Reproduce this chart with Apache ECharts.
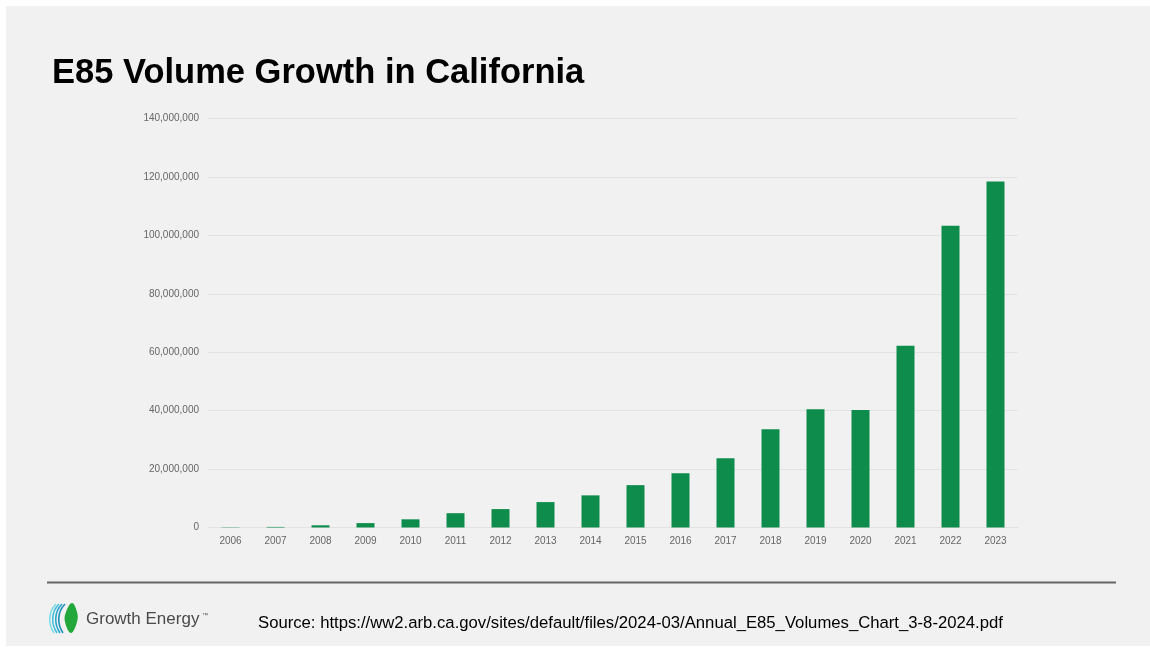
<!DOCTYPE html>
<html>
<head>
<meta charset="utf-8">
<script src="https://cdn.jsdelivr.net/npm/echarts@6/dist/echarts.min.js"></script>
<style>
html,body{margin:0;padding:0;background:#ffffff;}
#chart{width:1150px;height:647px;}
</style>
</head>
<body>
<div id="chart"></div>
<script>
const titleText = 'E85 Volume Growth in California';
const sourceText = 'Source: https://ww2.arb.ca.gov/sites/default/files/2024-03/Annual_E85_Volumes_Chart_3-8-2024.pdf';
const brandText = 'Growth Energy';
const years = ['2006','2007','2008','2009','2010','2011','2012','2013','2014','2015','2016','2017','2018','2019','2020','2021','2022','2023'];
const volumes = [100000, 200000, 750000, 1500000, 2800000, 4900000, 6300000, 8700000, 11000000, 14500000, 18600000, 23700000, 33600000, 40500000, 40200000, 62200000, 103300000, 118400000];
const yMax = 140000000;
const yInterval = 20000000;

const chart = echarts.init(document.getElementById('chart'), null, {renderer: 'canvas'});
const fmt = v => v.toLocaleString('en-US');

function curve(dx, color) {
  return {type: 'bezierCurve', shape: {x1: 56 + dx, y1: 604, cpx1: 48 + dx, cpy1: 612, cpx2: 48 + dx, cpy2: 624, x2: 54 + dx, y2: 633},
          style: {fill: null, stroke: color, lineWidth: 1.6}};
}

chart.setOption({
  animation: false,
  backgroundColor: '#ffffff',
  textStyle: {fontFamily: 'Liberation Sans, Arial, sans-serif'},
  graphic: [
    {type: 'rect', z: -10, shape: {x: 6, y: 6, width: 1144, height: 640}, style: {fill: '#f1f1f1'}},
    {type: 'text', x: 52, y: 56, style: {text: titleText, font: 'bold 34.5px "Liberation Sans", Arial, sans-serif', fill: '#000000'}},
    {type: 'line', shape: {x1: 47, y1: 582.5, x2: 1116, y2: 582.5}, style: {stroke: '#666666', lineWidth: 2}},
    curve(0, '#7fdbe6'),
    curve(3, '#45bfdc'),
    curve(6, '#2aa6cc'),
    curve(9, '#1f8fb8'),
    {type: 'polygon', shape: {points: [[72, 603], [66, 612], [65, 622], [71, 633], [77, 622], [77, 612]], smooth: 0.4}, style: {fill: '#22a83a'}},
    {type: 'text', x: 86, y: 611, style: {text: brandText, font: '17px "Liberation Sans", Arial, sans-serif', fill: '#4a4a4a'}},
    {type: 'text', x: 202, y: 612, style: {text: '™', font: '6px "Liberation Sans", Arial, sans-serif', fill: '#4a4a4a'}},
    {type: 'text', x: 258, y: 615, style: {text: sourceText, font: '16.7px "Liberation Sans", Arial, sans-serif', fill: '#000000'}}
  ],
  grid: {left: 208, right: 132, top: 118.5, bottom: 119.5, containLabel: false},
  xAxis: {
    type: 'category',
    data: years,
    axisLine: {show: true, lineStyle: {color: '#e2e2e2', width: 1}},
    axisTick: {show: false},
    axisLabel: {color: '#666666', fontSize: 10, margin: 9, fontFamily: 'Liberation Sans, Arial, sans-serif'}
  },
  yAxis: {
    type: 'value',
    min: 0,
    max: yMax,
    interval: yInterval,
    axisLine: {show: false},
    axisTick: {show: false},
    splitLine: {lineStyle: {color: '#e2e2e2', width: 1}},
    axisLabel: {color: '#666666', fontSize: 10, margin: 9, formatter: fmt, fontFamily: 'Liberation Sans, Arial, sans-serif'}
  },
  series: [{
    type: 'bar',
    data: volumes,
    barWidth: 18,
    itemStyle: {color: '#0e8c4c'}
  }]
});
</script>
</body>
</html>
